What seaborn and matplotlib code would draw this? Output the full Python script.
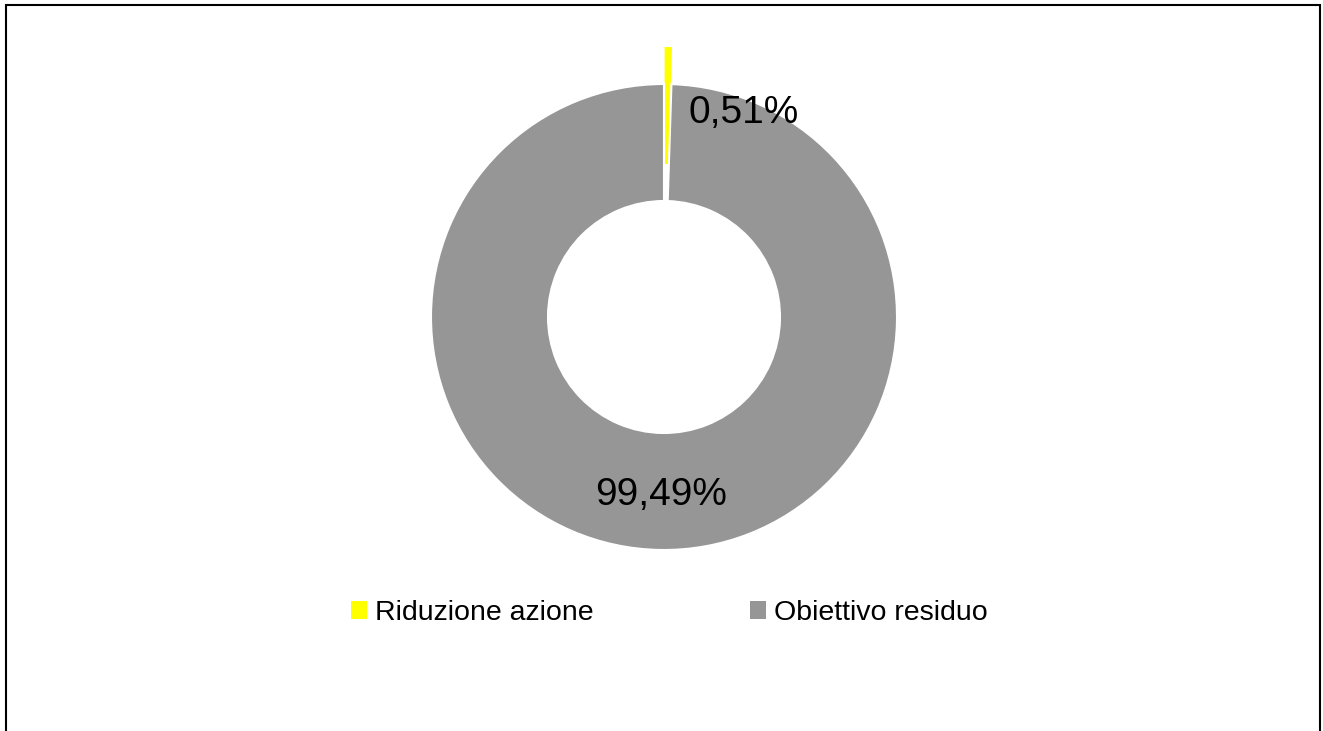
import matplotlib
matplotlib.use("Agg")
import matplotlib.pyplot as plt
from matplotlib.patches import Patch, Rectangle
import numpy as np
import seaborn as sns

# Data
categories = ["Riduzione azione", "Obiettivo residuo"]
shares = [0.51, 99.49]
slice_colors = ["#FFFF00", "#969696"]

sns.set_theme(style="white")
plt.rcParams["font.family"] = ["Liberation Sans", "DejaVu Sans"]

W, H = 1323, 731
fig = plt.figure(figsize=(W / 100, H / 100), dpi=100)
ax = fig.add_axes([0, 0, 1, 1])

# Work in pixel-like data units: centre, radius and ring width
cx, cy = 664, H - 317
R = 233
ring = 117
palette = sns.color_palette(slice_colors)

wedges, _ = ax.pie(
    shares,
    colors=palette,
    startangle=90,
    counterclock=False,
    radius=R,
    center=(cx, cy),
    explode=[37, 0],
    wedgeprops=dict(width=ring, edgecolor="white", linewidth=1.5),
    frame=True,
)
# The small exploded slice keeps its full width (no white outline)
wedges[0].set_linewidth(0)
wedges[0].set_edgecolor("none")

ax.set_xlim(0, W)
ax.set_ylim(0, H)
ax.set_aspect("equal")
ax.axis("off")


def fmt(v):
    return f"{v:.2f}".replace(".", ",") + "%"


# Value labels: large slice in the middle of the ring, small slice beside it
w_big = wedges[1]
mid = np.deg2rad((w_big.theta1 + w_big.theta2) / 2)
r_mid = R - ring / 2
ax.text(cx + r_mid * np.cos(mid), cy + r_mid * np.sin(mid) - 4, fmt(shares[1]),
        ha="center", va="center", fontsize=28, color="black")

ang = np.deg2rad(69)
ax.text(cx + 222 * np.cos(ang), cy + 222 * np.sin(ang) - 3, fmt(shares[0]),
        ha="center", va="center", fontsize=28, color="black")

# Legend
handles = [Patch(facecolor=c, edgecolor="none") for c in palette]
leg = fig.legend(handles, categories, loc="center",
                 bbox_to_anchor=(669 / W, 1 - 613 / H), ncol=2, frameon=False,
                 fontsize=20.5, handlelength=0.56, handleheight=0.56,
                 handletextpad=0.28, columnspacing=5.5)
for t in leg.get_texts():
    t.set_color("black")

# Chart-area border
ax.add_patch(Rectangle((6, -20), 1314, H - 5 + 20, fill=False,
                       edgecolor="black", linewidth=1.5, clip_on=False))

fig.savefig("out.png", dpi=100)
